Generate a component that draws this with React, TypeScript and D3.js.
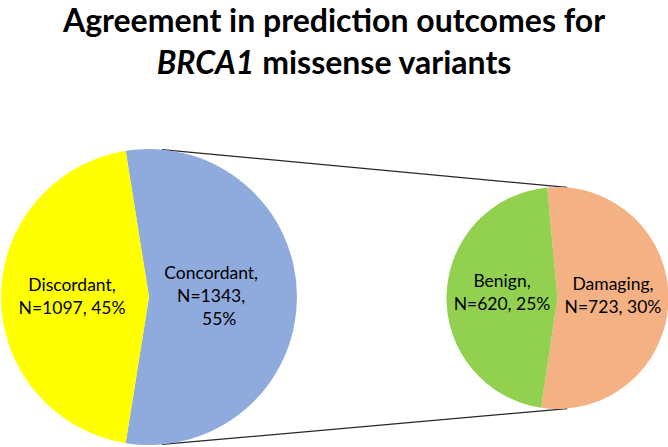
import * as d3 from 'd3';

// main pie (Concordant first so it sits on the right)
const mainLabels = ['Concordant', 'Discordant'];
const mainValues = [1343, 1097];
const mainPercents = ['55%', '45%'];
const mainColors = ['#8FAADC', '#FFFF00'];

// secondary pie: breakdown of the concordant slice
const subLabels = ['Damaging', 'Benign'];
const subValues = [723, 620];
const subPercents = ['30%', '25%'];
const subColors = ['#F4B183', '#92D050'];

const W = 668;
const H = 447;
const deg = Math.PI / 180;
const FONT = 'Lato, "Open Sans", sans-serif';

type Slice = d3.PieArcDatum<number>;

function pieSlices(values: number[], start: number) {
  return d3
    .pie<number>()
    .sort(null)
    .value(d => d)
    .startAngle(start)
    .endAngle(start + 2 * Math.PI)(values);
}

function pt(cx: number, cy: number, r: number, a: number): [number, number] {
  return [cx + r * Math.sin(a), cy - r * Math.cos(a)];
}

export default function App() {
  const main = { cx: 149, cy: 297, r: 148 };
  const sub = { cx: 557.5, cy: 298, r: 111 };

  // rotate main pie so the concordant slice is centred on 3 o'clock
  const mainShare = mainValues[0] / d3.sum(mainValues);
  const mainSlices = pieSlices(mainValues, Math.PI / 2 - mainShare * Math.PI);
  const subSlices = pieSlices(subValues, -5.3 * deg);

  const mainArc = d3.arc<Slice>().innerRadius(0).outerRadius(main.r);
  const subArc = d3.arc<Slice>().innerRadius(0).outerRadius(sub.r);

  const mainLines = [
    [`${mainLabels[0]},`, `N=${mainValues[0]},`, mainPercents[0]],
    [`${mainLabels[1]},`, `N=${mainValues[1]}, ${mainPercents[1]}`],
  ];
  const subLines = subLabels.map((l, i) => [`${l},`, `N=${subValues[i]}, ${subPercents[i]}`]);
  const mainLabelR = [0.42, 0.52];
  const lh = 23;

  const conn = 5 * deg;
  const connectors = [
    [pt(main.cx, main.cy, main.r, conn), pt(sub.cx, sub.cy, sub.r, conn)],
    [pt(main.cx, main.cy, main.r, Math.PI - conn), pt(sub.cx, sub.cy, sub.r, Math.PI - conn)],
  ];

  const label = (lines: string[], x: number, y: number, key: string, lastDx = 0) => {
    const y0 = y - ((lines.length - 1) * lh) / 2 + 5;
    return (
      <text key={key} textAnchor="middle" fontFamily={FONT} fontSize={17.5} fill="#000">
        {lines.map((t, j) => (
          <tspan key={j} x={x + (j === 2 ? lastDx : 0)} y={y0 + j * lh}>
            {t}
          </tspan>
        ))}
      </text>
    );
  };

  return (
    <svg
      width={W}
      height={H}
      viewBox={`0 0 ${W} ${H}`}
      style={{ position: 'absolute', left: 0, top: 0, background: '#fff' }}
    >
      <text textAnchor="middle" fontFamily={FONT} fontWeight="bold" fontSize={32} fill="#000">
        <tspan x={W / 2} y={32}>Agreement in prediction outcomes for</tspan>
        <tspan x={W / 2} y={74}>
          <tspan fontStyle="italic">BRCA1</tspan> missense variants
        </tspan>
      </text>

      {connectors.map(([a, b], i) => (
        <line key={i} x1={a[0]} y1={a[1]} x2={b[0]} y2={b[1]} stroke="#262626" strokeWidth={1.2} />
      ))}

      <g transform={`translate(${main.cx},${main.cy})`}>
        {mainSlices.map((s, i) => (
          <path key={i} d={mainArc(s) ?? ''} fill={mainColors[i]} />
        ))}
      </g>
      <g transform={`translate(${sub.cx},${sub.cy})`}>
        {subSlices.map((s, i) => (
          <path key={i} d={subArc(s) ?? ''} fill={subColors[i]} />
        ))}
      </g>

      {mainSlices.map((s, i) => {
        const a = (s.startAngle + s.endAngle) / 2;
        const [x, y] = pt(main.cx, main.cy, main.r * mainLabelR[i], a);
        return label(mainLines[i], x, y, `m${i}`, 8);
      })}
      {subSlices.map((s, i) => {
        const a = (s.startAngle + s.endAngle) / 2;
        const [x, y] = pt(sub.cx, sub.cy, sub.r * 0.5, a);
        return label(subLines[i], x, y - 3, `s${i}`);
      })}
    </svg>
  );
}
